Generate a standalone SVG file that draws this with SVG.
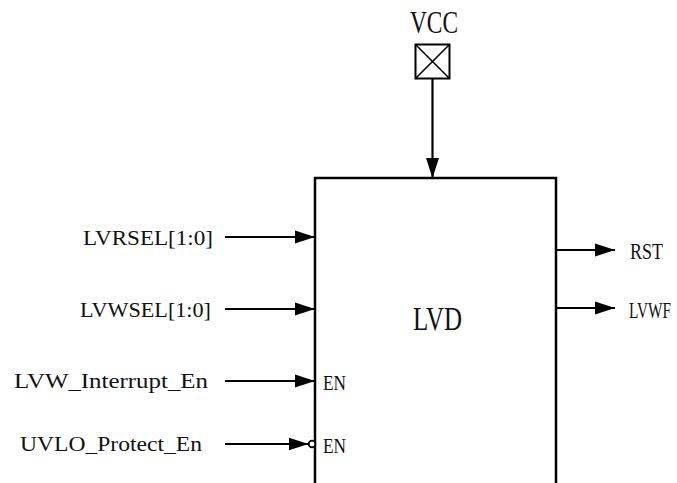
<svg xmlns="http://www.w3.org/2000/svg" width="677" height="483" viewBox="0 0 677 483">
<defs>
<style>
.t{font-family:"Liberation Serif","Noto Serif",serif;fill:#111;}
.w{stroke:#000;stroke-width:2.2;fill:none;}
.b{stroke:#000;stroke-width:2.5;fill:none;}
</style>
<marker id="ah" markerUnits="userSpaceOnUse" markerWidth="22" markerHeight="16" refX="20" refY="8" orient="auto">
<path d="M0,1.5 L20,8 L0,14.5 Z" fill="#000"/>
</marker>
</defs>
<rect width="677" height="483" fill="#fff"/>
<g id="lvd">
<path class="b" d="M315,483 V178 H556 V483"/>
<text class="t" x="413" y="330" font-size="34" textLength="49" lengthAdjust="spacingAndGlyphs">LVD</text>
<text class="t" x="323" y="390" font-size="22" textLength="23" lengthAdjust="spacingAndGlyphs">EN</text>
<text class="t" x="323" y="453" font-size="22" textLength="23" lengthAdjust="spacingAndGlyphs">EN</text>
</g>
<g id="vcc">
<rect x="415.5" y="44.5" width="34" height="34" fill="#fff" stroke="#000" stroke-width="2"/>
<path d="M415.5,44.5 L449.5,78.5 M449.5,44.5 L415.5,78.5" stroke="#000" stroke-width="1.6"/>
<text class="t" x="410" y="33" font-size="31" textLength="48" lengthAdjust="spacingAndGlyphs">VCC</text>
</g>
<g id="lvrsel"><text class="t" x="83" y="245" font-size="22" textLength="130" lengthAdjust="spacingAndGlyphs">LVRSEL[1:0]</text></g>
<g id="lvwsel"><text class="t" x="80" y="317" font-size="22" textLength="131" lengthAdjust="spacingAndGlyphs">LVWSEL[1:0]</text></g>
<g id="lvwint"><text class="t" x="14" y="388" font-size="22" textLength="194" lengthAdjust="spacingAndGlyphs">LVW_Interrupt_En</text></g>
<g id="uvlo"><text class="t" x="20" y="451" font-size="22" textLength="182" lengthAdjust="spacingAndGlyphs">UVLO_Protect_En</text></g>
<g id="rst"><text class="t" x="630" y="259" font-size="24" textLength="33" lengthAdjust="spacingAndGlyphs">RST</text></g>
<g id="lvwf"><text class="t" x="629" y="318" font-size="23" textLength="42" lengthAdjust="spacingAndGlyphs">LVWF</text></g>
<g id="connectors">
<line class="w" x1="432.5" y1="79" x2="432.5" y2="178" marker-end="url(#ah)"/>
<line class="w" x1="225" y1="237" x2="315" y2="237" marker-end="url(#ah)"/>
<line class="w" x1="225" y1="309" x2="315" y2="309" marker-end="url(#ah)"/>
<line class="w" x1="225" y1="381" x2="315" y2="381" marker-end="url(#ah)"/>
<line class="w" x1="225" y1="444" x2="308.5" y2="444" marker-end="url(#ah)"/>
<circle cx="312" cy="444" r="3.3" fill="#fff" stroke="#000" stroke-width="1.8"/>
<line class="w" x1="556" y1="250" x2="615" y2="250" marker-end="url(#ah)"/>
<line class="w" x1="556" y1="308" x2="615" y2="308" marker-end="url(#ah)"/>
</g>
</svg>
